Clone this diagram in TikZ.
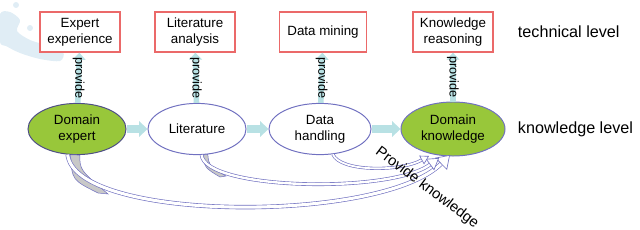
\documentclass[tikz,border=0pt]{standalone}
\usepackage{fontspec}
\setmainfont{Liberation Sans}
\usetikzlibrary{arrows.meta, shapes.geometric, positioning}
\definecolor{BoxRed}{RGB}{235,105,105}
\definecolor{LeafGreen}{RGB}{152,199,58}
\definecolor{EdgeBlue}{RGB}{112,112,192}
\definecolor{PaleTeal}{RGB}{184,225,228}
\definecolor{TailGray}{RGB}{200,200,200}
\definecolor{MapBlue}{RGB}{224,237,245}

\begin{document}
\begin{tikzpicture}[x=0.025cm, y=-0.025cm,
	tech/.style={rectangle, draw=BoxRed, line width=0.9pt, fill=white, minimum width=2cm,
		minimum height=1cm, align=center, inner sep=1pt, font=\fontsize{9.5}{11.5}\selectfont},
	know/.style={ellipse, draw=EdgeBlue, line width=0.7pt, minimum width=2.45cm,
		minimum height=1.28cm, align=center, inner sep=0pt, font=\fontsize{9.5}{11.5}\selectfont},
	provide/.style={-{Triangle[length=5pt, width=9pt]}, line width=4pt, PaleTeal},
	flow/.style={-{Triangle[length=6pt, width=11pt]}, line width=5pt, PaleTeal},
	feed/.style={draw=EdgeBlue, line width=0.45pt, double=white},
	tail/.style={fill=TailGray, draw=EdgeBlue, line width=0.35pt}]
	\useasboundingbox (0,0) rectangle (640,230);
	% faint map in the corner
	\fill[MapBlue] plot[smooth cycle] coordinates {(0,14) (10,12) (20,20) (17,31) (30,40)
		(46,45) (63,52) (60,61) (40,59) (20,53) (6,46) (0,42)};
	\fill[MapBlue] (16,5) circle (3);
	\fill[MapBlue] (8,18) circle (2.5);
	\fill[MapBlue] (30,28) circle (3);
	% technical level
	\node[tech] (t1) at (80,32) {Expert\\experience};
	\node[tech] (t2) at (195,32) {Literature\\analysis};
	\node[tech, minimum width=2.18cm] (t3) at (323,32) {Data mining};
	\node[tech] (t4) at (453,32) {Knowledge\\reasoning};
	\node[font=\fontsize{11.5}{14}\selectfont, anchor=west] (tl) at (513,32) {technical level};
	% knowledge level
	\node[know, fill=LeafGreen, draw=EdgeBlue!70!black] (k1) at (77,129) {Domain\\expert};
	\node[know, fill=white] (k2) at (197,129) {Literature};
	\node[know, fill=white, minimum width=2.55cm] (k3) at (320,129) {Data\\handling};
	\node[know, fill=LeafGreen, minimum width=2.6cm, minimum height=1.35cm] (k4) at (453,129)
		{Domain\\knowledge};
	\node[font=\fontsize{11.5}{14}\selectfont, anchor=west] (kl) at (513,129) {knowledge level};
	% provide
	\foreach \i in {1,...,4}{
		\draw[provide] (k\i) -- node[rotate=-90, font=\fontsize{9}{10}\selectfont, text=black]
			{provide} (t\i);}
	\draw[flow] (k1) -- (k2);
	\draw[flow] (k2) -- (k3);
	\draw[flow] (k3) -- (k4);
	% feedback curves
	\coordinate (h1) at (450,155);
	\coordinate (h2) at (439,158);
	\coordinate (h3) at (429,156);
	\filldraw[tail] (k1.256) -- (k1.276) .. controls (80,170) .. (108,194) -- (98,193)
		.. controls (72,180) .. cycle;
	\filldraw[tail] (k2.282) -- (k2.293) .. controls (209,166) .. (226,176) -- (220,177)
		.. controls (205,168) .. cycle;
	\draw[feed, double distance=2.2pt,
		-{Triangle[open, fill=white, length=9pt, width=12pt, line width=0.45pt]}]
		(k1.250) .. controls (75,222) and (380,224) .. (h1);
	\draw[feed, double distance=1.7pt,
		-{Triangle[open, fill=white, length=8pt, width=10pt, line width=0.45pt]}]
		(k2.280) .. controls (205,190) and (390,194) .. (h2);
	\draw[feed, double distance=1.3pt,
		-{Triangle[open, fill=white, length=6pt, width=7pt, line width=0.45pt]}]
		(k3.297) .. controls (340,172) and (400,172) .. (h3);
	\node[rotate=-37, font=\fontsize{10.5}{12}\selectfont] (pk) at (427,188) {Provide knowledge};
\end{tikzpicture}
\end{document}
